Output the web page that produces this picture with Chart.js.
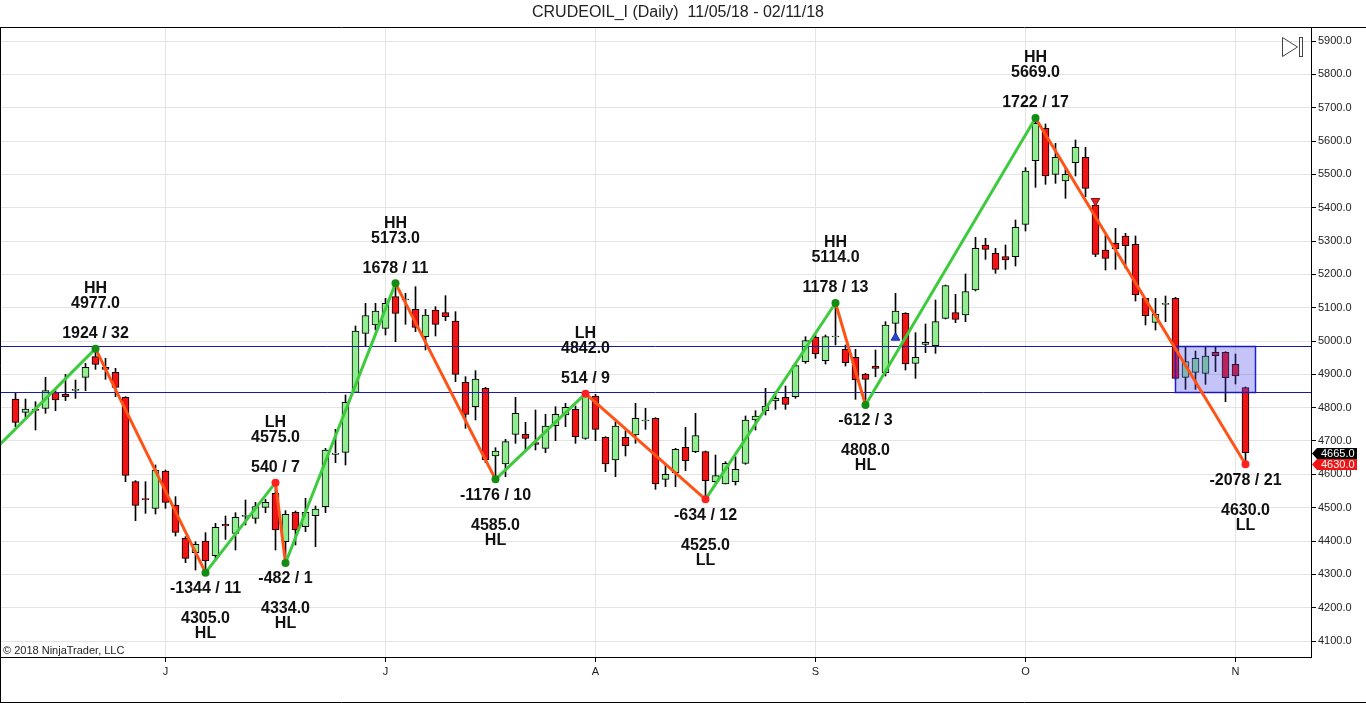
<!DOCTYPE html>
<html>
<head>
<meta charset="utf-8">
<title>CRUDEOIL_I (Daily)</title>
<script src="https://cdn.jsdelivr.net/npm/chart.js@4.4.1/dist/chart.umd.min.js"></script>
<style>
  html, body { margin: 0; padding: 0; background: #fff; }
  canvas { display: block; }
</style>
</head>
<body>
<canvas id="chart" width="1366" height="703"></canvas>
<script>
"use strict";

// daily bars, 11/05/18 .. 02/11/18
const opens = [
  4826, 4786, 4795, 4798, 4845, 4840, 4852, 4891, 4953, 4921,
  4906, 4831, 4578, 4527, 4498, 4610, 4508, 4408, 4365, 4400,
  4356, 4450, 4423, 4474, 4468, 4501, 4543, 4398, 4486, 4443,
  4476, 4503, 4660, 4666, 4846, 5023, 5048, 5038, 5133, 5123,
  5095, 5013, 5093, 5085, 5060, 4876, 4803, 4858, 4655, 4631,
  4720, 4720, 4695, 4678, 4746, 4778, 4795, 4708, 4835, 4711,
  4643, 4711, 4718, 4760, 4768, 4585, 4605, 4681, 4668, 4668,
  4578, 4571, 4578, 4633, 4763, 4791, 4820, 4831, 4833, 4938,
  5011, 4941, 5012, 4975, 4951, 4901, 4925, 4905, 5053, 5083,
  4933, 4990, 4986, 5068, 5085, 5078, 5153, 5288, 5263, 5253,
  5253, 5350, 5541, 5638, 5500, 5480, 5535, 5551, 5408, 5273,
  5293, 5315, 5290, 5128, 5056, 5110, 5128, 4891, 4906, 4903,
  4966, 4966, 4930, 4860
];
const highs = [
  4843, 4826, 4818, 4891, 4851, 4900, 4883, 4933, 4977, 4948,
  4918, 4833, 4581, 4578, 4628, 4613, 4533, 4413, 4398, 4425,
  4453, 4475, 4485, 4523, 4516, 4525, 4575, 4491, 4490, 4528,
  4505, 4678, 4735, 4838, 5045, 5113, 5113, 5128, 5173, 5143,
  5163, 5095, 5103, 5136, 5088, 4893, 4911, 4861, 4680, 4705,
  4831, 4756, 4793, 4780, 4803, 4813, 4805, 4842, 4840, 4713,
  4758, 4731, 4813, 4798, 4770, 4628, 4678, 4741, 4783, 4670,
  4658, 4638, 4653, 4775, 4791, 4858, 4848, 4865, 4930, 5013,
  5018, 5018, 5114, 4988, 4975, 4903, 4973, 5058, 5143, 5085,
  5025, 5051, 5123, 5168, 5140, 5201, 5311, 5308, 5278, 5288,
  5363, 5520, 5669, 5651, 5593, 5518, 5603, 5581, 5413, 5318,
  5338, 5323, 5315, 5128, 5128, 5135, 5131, 4983, 4970, 4983,
  4983, 4968, 4961, 4862
];
const lows = [
  4743, 4771, 4733, 4783, 4791, 4821, 4828, 4851, 4915, 4885,
  4833, 4578, 4461, 4483, 4481, 4498, 4415, 4335, 4313, 4305,
  4343, 4405, 4373, 4448, 4453, 4485, 4373, 4334, 4388, 4428,
  4383, 4485, 4635, 4628, 4846, 4985, 5033, 5018, 4998, 5050,
  5028, 4973, 5015, 5061, 4878, 4738, 4763, 4635, 4585, 4593,
  4693, 4673, 4673, 4665, 4701, 4743, 4693, 4705, 4701, 4608,
  4593, 4655, 4693, 4735, 4555, 4563, 4563, 4611, 4665, 4525,
  4575, 4571, 4568, 4630, 4733, 4778, 4795, 4795, 4828, 4933,
  4948, 4931, 4988, 4925, 4825, 4808, 4893, 4895, 5013, 4913,
  4888, 4965, 4963, 5066, 5055, 5058, 5150, 5245, 5203, 5215,
  5225, 5330, 5461, 5470, 5473, 5428, 5495, 5433, 5253, 5213,
  5215, 5218, 5120, 5048, 5033, 5058, 4885, 4855, 4855, 4870,
  4908, 4818, 4871, 4630
];
const closes = [
  4756, 4796, 4792, 4851, 4823, 4833, 4855, 4921, 4930, 4915,
  4861, 4597, 4507, 4524, 4613, 4516, 4426, 4348, 4390, 4340,
  4441, 4445, 4471, 4477, 4503, 4516, 4433, 4480, 4433, 4486,
  4496, 4673, 4664, 4816, 5030, 5076, 5090, 5113, 5083, 5126,
  5041, 5078, 5050, 5073, 4900, 4780, 4886, 4643, 4670, 4698,
  4783, 4708, 4690, 4745, 4780, 4801, 4713, 4838, 4735, 4631,
  4745, 4686, 4768, 4763, 4571, 4600, 4675, 4641, 4716, 4581,
  4596, 4633, 4615, 4763, 4775, 4805, 4828, 4810, 4926, 5001,
  4961, 5013, 5015, 4935, 4883, 4885, 4918, 5048, 5090, 4931,
  4951, 4996, 5058, 5166, 5065, 5148, 5278, 5275, 5215, 5243,
  5341, 5510, 5653, 5495, 5551, 5500, 5581, 5458, 5260, 5248,
  5276, 5286, 5138, 5076, 5080, 5113, 4888, 4938, 4948, 4955,
  4956, 4890, 4895, 4665
];

const monthStarts = [15, 37, 58, 80, 101, 122];
const monthLabels = ["J", "J", "A", "S", "O", "N"];
const priceTicks = [
  4100, 4200, 4300, 4400, 4500, 4600, 4700, 4800, 4900, 5000,
  5100, 5200, 5300, 5400, 5500, 5600, 5700, 5800, 5900
];

// zigzag swings (first one is before the visible range)
const swingBars = [-24, 8, 19, 26, 27, 38, 48, 57, 69, 82, 85, 102, 123];
const swingPrices = [4015, 4977, 4305, 4575, 4334, 5173, 4585, 4842, 4525, 5114, 4808, 5669, 4630];
const swingTypes = ["", "HH", "HL", "LH", "HL", "HH", "HL", "LH", "LL", "HH", "HL", "HH", "LL"];
const tickSize = 0.5;

const zoneLevels = [4985, 4848];
const zoneBars = [116, 124];
const upSignalBars = [88];
const upSignalPrices = [5010];
const downSignalBars = [108];
const downSignalPrices = [5420];
const lastSwingPrice = 4630;

const FONT = '"Liberation Sans", Arial, sans-serif';
const green = "#90EE90";
const red = "#F01414";

const bars = opens.map((o, i) => i);

const overlay = {
  id: "overlay",
  afterDatasetDraw(chart, args) {
    if (args.index !== 1) {
      return;
    }
    const { x, y } = chart.scales;
    const area = chart.chartArea;
    const ctx = chart.ctx;
    const left = Math.round(x.getPixelForValue(zoneBars[0])) + 0.5;
    const right = Math.round(x.getPixelForValue(zoneBars[1])) + 0.5;
    const top = Math.round(y.getPixelForValue(zoneLevels[0])) + 0.5;
    const bottom = Math.round(y.getPixelForValue(zoneLevels[1])) + 0.5;
    ctx.save();
    ctx.fillStyle = "rgba(70, 70, 235, 0.32)";
    ctx.fillRect(left, top, right - left, bottom - top);
    ctx.strokeStyle = "#1e1ed2";
    ctx.lineWidth = 1.5;
    ctx.strokeRect(left, top, right - left, bottom - top);

    // level lines across the chart
    ctx.strokeStyle = "#1A1AA8";
    ctx.lineWidth = 1;
    ctx.beginPath();
    zoneLevels.forEach((v) => {
      const py = Math.round(y.getPixelForValue(v)) + 0.5;
      ctx.moveTo(area.left, py);
      ctx.lineTo(area.right, py);
    });
    ctx.stroke();
    ctx.restore();
  },
  afterDraw(chart) {
    const { x, y } = chart.scales;
    const ctx = chart.ctx;
    ctx.save();

    // swing labels
    ctx.fillStyle = "#111";
    ctx.font = `bold 16px ${FONT}`;
    ctx.textAlign = "center";
    ctx.textBaseline = "middle";
    for (let i = 1; i < swingBars.length; i++) {
      const px = x.getPixelForValue(swingBars[i]);
      const py = y.getPixelForValue(swingPrices[i]);
      const move = Math.round((swingPrices[i] - swingPrices[i - 1]) / tickSize);
      const count = swingBars[i] - swingBars[i - 1];
      const up = move > 0;
      const s = up ? -1 : 1;
      ctx.fillText(`${move} / ${count}`, px, py + s * (up ? 15 : 16));
      ctx.fillText(swingPrices[i].toFixed(1), px, py + s * (up ? 45 : 46));
      ctx.fillText(swingTypes[i], px, py + s * (up ? 60 : 61));
    }

    // price badges on the axis
    const badge = function (value, bg) {
      const py = Math.round(y.getPixelForValue(value)) + 0.5;
      const x0 = y.left + 1;
      ctx.beginPath();
      ctx.moveTo(x0, py);
      ctx.lineTo(x0 + 5, py - 5.5);
      ctx.lineTo(x0 + 45, py - 5.5);
      ctx.lineTo(x0 + 45, py + 5.5);
      ctx.lineTo(x0 + 5, py + 5.5);
      ctx.closePath();
      ctx.fillStyle = bg;
      ctx.fill();
      ctx.fillStyle = "#fff";
      ctx.font = `11px ${FONT}`;
      ctx.textAlign = "left";
      ctx.fillText(value.toFixed(1), x0 + 9, py);
    };
    badge(closes[closes.length - 1], "#000");
    badge(lastSwingPrice, "#F01414");

    // title
    ctx.fillStyle = "#222";
    ctx.font = `16px ${FONT}`;
    ctx.textAlign = "center";
    ctx.fillText("CRUDEOIL_I (Daily)  11/05/18 - 02/11/18", 678, 13);

    // copyright
    ctx.font = `11px ${FONT}`;
    ctx.textAlign = "left";
    ctx.fillText("\u00A9 2018 NinjaTrader, LLC", 3, 651);

    // frame
    ctx.strokeStyle = "#000";
    ctx.lineWidth = 1;
    ctx.beginPath();
    ctx.moveTo(0, 27.5);
    ctx.lineTo(1366, 27.5);
    ctx.moveTo(0.5, 27.5);
    ctx.lineTo(0.5, 703);
    ctx.moveTo(0, 702.5);
    ctx.lineTo(1366, 702.5);
    ctx.stroke();

    // scroll icon
    ctx.strokeStyle = "#444";
    ctx.beginPath();
    ctx.moveTo(1282.5, 37.5);
    ctx.lineTo(1297.5, 47);
    ctx.lineTo(1282.5, 56.5);
    ctx.closePath();
    ctx.stroke();
    ctx.strokeRect(1299.5, 37.5, 3, 19);

    ctx.restore();
  },
};

const ctx = document.getElementById("chart").getContext("2d");
new Chart(ctx, {
  type: "bar",
  data: {
    datasets: [
      {
        label: "wicks",
        data: bars.map((i) => ({ x: i, y: [lows[i], highs[i]] })),
        backgroundColor: "#000",
        borderWidth: 0,
        barThickness: 1,
        grouped: false,
        order: 4,
      },
      {
        label: "bodies",
        data: bars.map((i) => ({
          x: i,
          y: [Math.min(opens[i], closes[i]), Math.max(opens[i], closes[i])],
        })),
        backgroundColor: bars.map((i) => (closes[i] >= opens[i] ? green : red)),
        borderColor: "#000",
        borderWidth: 1,
        borderSkipped: false,
        barThickness: 7,
        grouped: false,
        order: 3,
      },
      {
        type: "line",
        label: "zigzag",
        data: swingBars.map((b, i) => ({ x: b, y: swingPrices[i] })),
        borderColor: "#3DCB3D",
        borderWidth: 3,
        segment: {
          borderColor: (c) => (c.p1.parsed.y > c.p0.parsed.y ? "#3DCB3D" : "#FF5316"),
        },
        pointRadius: swingBars.map((b, i) => (i === 0 ? 0 : 4)),
        pointBackgroundColor: swingTypes.map((t) => (t === "HH" || t === "HL" ? "#128C12" : "#FF2020")),
        pointBorderWidth: 0,
        order: 1,
      },
      {
        type: "scatter",
        label: "up signal",
        data: upSignalBars.map((b, i) => ({ x: b, y: upSignalPrices[i] })),
        pointStyle: "triangle",
        pointRadius: 5,
        backgroundColor: "#2848D8",
        borderColor: "#1a2a90",
        borderWidth: 1,
        order: 0,
      },
      {
        type: "scatter",
        label: "down signal",
        data: downSignalBars.map((b, i) => ({ x: b, y: downSignalPrices[i] })),
        pointStyle: "triangle",
        rotation: 180,
        pointRadius: 5,
        backgroundColor: "#E82020",
        borderColor: "#901010",
        borderWidth: 1,
        order: 0,
      },
    ],
  },
  options: {
    responsive: false,
    animation: false,
    devicePixelRatio: 1,
    layout: { autoPadding: false, padding: { top: 28, left: 0, right: 0, bottom: 0 } },
    plugins: {
      legend: { display: false },
      tooltip: { enabled: false },
      title: { display: false },
    },
    scales: {
      x: {
        type: "linear",
        min: -1.55,
        max: 129.55,
        offset: false,
        afterBuildTicks: (s) => {
          s.ticks = monthStarts.map((v) => ({ value: v }));
        },
        afterFit: (s) => {
          s.height = 46;
          s.paddingLeft = 0;
          s.paddingRight = 0;
        },
        ticks: {
          autoSkip: false,
          maxRotation: 0,
          padding: 3,
          color: "#222",
          font: { family: FONT, size: 11 },
          callback: (v, i) => monthLabels[i],
        },
        grid: { offset: false, color: "#E4E4E4", tickLength: 5, tickColor: "#000" },
        border: { color: "#000" },
      },
      y: {
        position: "right",
        min: 4052,
        max: 5939,
        beginAtZero: false,
        afterBuildTicks: (s) => {
          s.ticks = priceTicks.map((v) => ({ value: v }));
        },
        afterFit: (s) => {
          s.width = 55;
        },
        ticks: {
          autoSkip: false,
          padding: 2,
          color: "#222",
          font: { family: FONT, size: 11 },
          callback: (v) => v.toFixed(1),
        },
        grid: { color: "#E4E4E4", tickLength: 5, tickColor: "#000" },
        border: { color: "#000" },
      },
    },
  },
  plugins: [overlay],
});
</script>
</body>
</html>
